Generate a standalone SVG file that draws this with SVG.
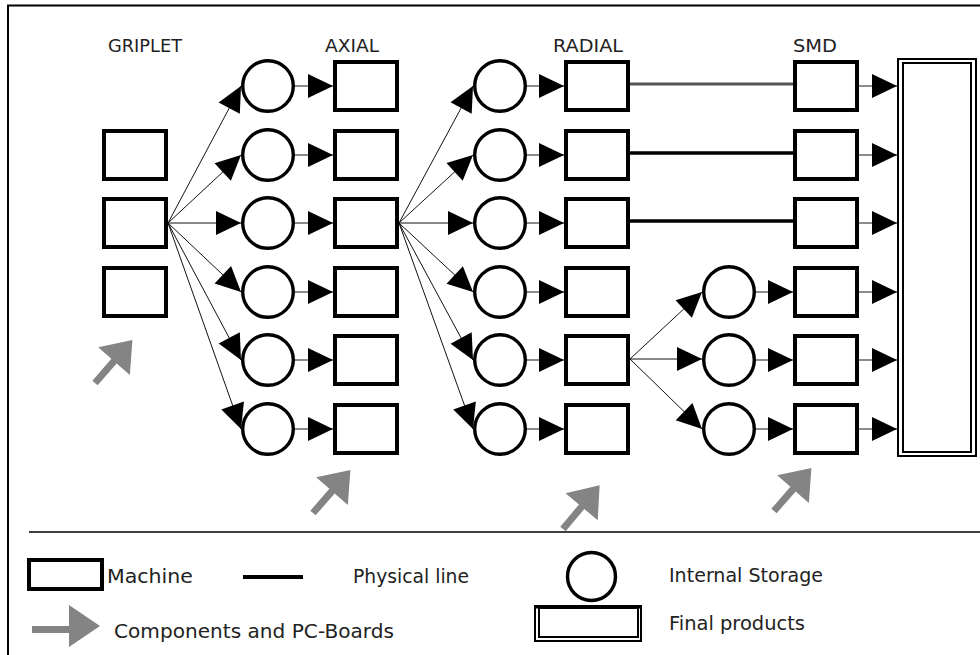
<svg xmlns="http://www.w3.org/2000/svg" width="980" height="655" viewBox="0 0 980 655">
  <style>
    .frame { fill: none; stroke: #000; stroke-width: 2; }
    .machine { fill: #fff; stroke: #000; stroke-width: 4; }
    .store { fill: #fff; stroke: #000; stroke-width: 3.4; }
    .final { fill: none; stroke: #000; stroke-width: 2; }
    .fan { stroke: #111; stroke-width: 1; fill: none; }
    .feed { stroke: #666; stroke-width: 1.6; fill: none; }
    .phys { stroke: #000; stroke-width: 3.5; fill: none; }
    .phys-gray { stroke: #555; stroke-width: 3; fill: none; }
    .supply { fill: #848484; }
    .label { font-family: "DejaVu Sans", "Liberation Sans", sans-serif; fill: #222; }
    .head { font-size: 17.5px; }
    .legend { font-size: 19px; }
  </style>
  <defs>
    <marker id="arrow" markerUnits="userSpaceOnUse" markerWidth="26" markerHeight="24" refX="25" refY="12" orient="auto" overflow="visible">
      <path d="M0,0 L25,12 L0,24 Z" fill="#000"/>
    </marker>
    <!-- grey supply arrow, tail at origin, pointing along +x -->
    <polygon id="supply-arrow" class="supply" points="0,-3.5 29,-3.5 29,-21 57,0 29,21 29,3.5 0,3.5"/>
  </defs>

  <!-- outer frame (right and bottom edges run off the page) -->
  <rect class="frame" x="8" y="5.5" width="1000" height="700"/>

  <!-- column headings -->
  <text class="label head" x="108" y="52" textLength="74" lengthAdjust="spacingAndGlyphs">GRIPLET</text>
  <text class="label head" x="325" y="52" textLength="54" lengthAdjust="spacingAndGlyphs">AXIAL</text>
  <text class="label head" x="553" y="52" textLength="70" lengthAdjust="spacingAndGlyphs">RADIAL</text>
  <text class="label head" x="793" y="52" textLength="44" lengthAdjust="spacingAndGlyphs">SMD</text>

  <!-- connectors -->
  <g id="connectors">
    <!-- griplet fan-out to axial storages -->
    <line class="fan" x1="168" y1="223" x2="241" y2="86" marker-end="url(#arrow)"/>
    <line class="fan" x1="168" y1="223" x2="241" y2="155" marker-end="url(#arrow)"/>
    <line class="fan" x1="168" y1="223" x2="241" y2="223" marker-end="url(#arrow)"/>
    <line class="fan" x1="168" y1="223" x2="241" y2="292" marker-end="url(#arrow)"/>
    <line class="fan" x1="168" y1="223" x2="241" y2="360" marker-end="url(#arrow)"/>
    <line class="fan" x1="168" y1="223" x2="241" y2="429" marker-end="url(#arrow)"/>
    <!-- axial storages to axial machines -->
    <line class="feed" x1="295" y1="86" x2="333" y2="86" marker-end="url(#arrow)"/>
    <line class="feed" x1="295" y1="155" x2="333" y2="155" marker-end="url(#arrow)"/>
    <line class="feed" x1="295" y1="223" x2="333" y2="223" marker-end="url(#arrow)"/>
    <line class="feed" x1="295" y1="292" x2="333" y2="292" marker-end="url(#arrow)"/>
    <line class="feed" x1="295" y1="360" x2="333" y2="360" marker-end="url(#arrow)"/>
    <line class="feed" x1="295" y1="429" x2="333" y2="429" marker-end="url(#arrow)"/>
    <!-- axial fan-out to radial storages -->
    <line class="fan" x1="399" y1="223" x2="473" y2="86" marker-end="url(#arrow)"/>
    <line class="fan" x1="399" y1="223" x2="473" y2="155" marker-end="url(#arrow)"/>
    <line class="fan" x1="399" y1="223" x2="473" y2="223" marker-end="url(#arrow)"/>
    <line class="fan" x1="399" y1="223" x2="473" y2="292" marker-end="url(#arrow)"/>
    <line class="fan" x1="399" y1="223" x2="473" y2="360" marker-end="url(#arrow)"/>
    <line class="fan" x1="399" y1="223" x2="473" y2="429" marker-end="url(#arrow)"/>
    <!-- radial storages to radial machines -->
    <line class="feed" x1="527" y1="86" x2="564" y2="86" marker-end="url(#arrow)"/>
    <line class="feed" x1="527" y1="155" x2="564" y2="155" marker-end="url(#arrow)"/>
    <line class="feed" x1="527" y1="223" x2="564" y2="223" marker-end="url(#arrow)"/>
    <line class="feed" x1="527" y1="292" x2="564" y2="292" marker-end="url(#arrow)"/>
    <line class="feed" x1="527" y1="360" x2="564" y2="360" marker-end="url(#arrow)"/>
    <line class="feed" x1="527" y1="429" x2="564" y2="429" marker-end="url(#arrow)"/>
    <!-- physical lines radial to SMD -->
    <line class="phys-gray" x1="630" y1="84" x2="793" y2="84"/>
    <line class="phys" x1="630" y1="153" x2="793" y2="153"/>
    <line class="phys" x1="630" y1="221" x2="793" y2="221"/>
    <!-- radial fan-out to SMD storages -->
    <line class="fan" x1="630" y1="359" x2="702" y2="292" marker-end="url(#arrow)"/>
    <line class="fan" x1="630" y1="359" x2="702" y2="359" marker-end="url(#arrow)"/>
    <line class="fan" x1="630" y1="359" x2="702" y2="429" marker-end="url(#arrow)"/>
    <!-- SMD storages to SMD machines -->
    <line class="feed" x1="756" y1="292" x2="793" y2="292" marker-end="url(#arrow)"/>
    <line class="feed" x1="756" y1="360" x2="793" y2="360" marker-end="url(#arrow)"/>
    <line class="feed" x1="756" y1="429" x2="793" y2="429" marker-end="url(#arrow)"/>
    <!-- SMD machines to final products -->
    <line class="feed" x1="859" y1="86" x2="897" y2="86" marker-end="url(#arrow)"/>
    <line class="feed" x1="859" y1="155" x2="897" y2="155" marker-end="url(#arrow)"/>
    <line class="feed" x1="859" y1="223" x2="897" y2="223" marker-end="url(#arrow)"/>
    <line class="feed" x1="859" y1="292" x2="897" y2="292" marker-end="url(#arrow)"/>
    <line class="feed" x1="859" y1="360" x2="897" y2="360" marker-end="url(#arrow)"/>
    <line class="feed" x1="859" y1="429" x2="897" y2="429" marker-end="url(#arrow)"/>
  </g>

  <!-- griplet machines -->
  <g id="griplet-1"><rect class="machine" x="104" y="131" width="62" height="48"/></g>
  <g id="griplet-2"><rect class="machine" x="104" y="199" width="62" height="48"/></g>
  <g id="griplet-3"><rect class="machine" x="104" y="268" width="62" height="48"/></g>

  <!-- axial storages -->
  <g id="axial-store-1"><circle class="store" cx="268" cy="86" r="25.3"/></g>
  <g id="axial-store-2"><circle class="store" cx="268" cy="155" r="25.3"/></g>
  <g id="axial-store-3"><circle class="store" cx="268" cy="223" r="25.3"/></g>
  <g id="axial-store-4"><circle class="store" cx="268" cy="292" r="25.3"/></g>
  <g id="axial-store-5"><circle class="store" cx="268" cy="360" r="25.3"/></g>
  <g id="axial-store-6"><circle class="store" cx="268" cy="429" r="25.3"/></g>

  <!-- axial machines -->
  <g id="axial-1"><rect class="machine" x="335" y="62" width="62" height="48"/></g>
  <g id="axial-2"><rect class="machine" x="335" y="131" width="62" height="48"/></g>
  <g id="axial-3"><rect class="machine" x="335" y="199" width="62" height="48"/></g>
  <g id="axial-4"><rect class="machine" x="335" y="268" width="62" height="48"/></g>
  <g id="axial-5"><rect class="machine" x="335" y="336" width="62" height="48"/></g>
  <g id="axial-6"><rect class="machine" x="335" y="405" width="62" height="48"/></g>

  <!-- radial storages -->
  <g id="radial-store-1"><circle class="store" cx="500" cy="86" r="25.3"/></g>
  <g id="radial-store-2"><circle class="store" cx="500" cy="155" r="25.3"/></g>
  <g id="radial-store-3"><circle class="store" cx="500" cy="223" r="25.3"/></g>
  <g id="radial-store-4"><circle class="store" cx="500" cy="292" r="25.3"/></g>
  <g id="radial-store-5"><circle class="store" cx="500" cy="360" r="25.3"/></g>
  <g id="radial-store-6"><circle class="store" cx="500" cy="429" r="25.3"/></g>

  <!-- radial machines -->
  <g id="radial-1"><rect class="machine" x="566" y="62" width="62" height="48"/></g>
  <g id="radial-2"><rect class="machine" x="566" y="131" width="62" height="48"/></g>
  <g id="radial-3"><rect class="machine" x="566" y="199" width="62" height="48"/></g>
  <g id="radial-4"><rect class="machine" x="566" y="268" width="62" height="48"/></g>
  <g id="radial-5"><rect class="machine" x="566" y="336" width="62" height="48"/></g>
  <g id="radial-6"><rect class="machine" x="566" y="405" width="62" height="48"/></g>

  <!-- SMD storages -->
  <g id="smd-store-4"><circle class="store" cx="729" cy="292" r="25.3"/></g>
  <g id="smd-store-5"><circle class="store" cx="729" cy="360" r="25.3"/></g>
  <g id="smd-store-6"><circle class="store" cx="729" cy="429" r="25.3"/></g>

  <!-- SMD machines -->
  <g id="smd-1"><rect class="machine" x="795" y="62" width="62" height="48"/></g>
  <g id="smd-2"><rect class="machine" x="795" y="131" width="62" height="48"/></g>
  <g id="smd-3"><rect class="machine" x="795" y="199" width="62" height="48"/></g>
  <g id="smd-4"><rect class="machine" x="795" y="268" width="62" height="48"/></g>
  <g id="smd-5"><rect class="machine" x="795" y="336" width="62" height="48"/></g>
  <g id="smd-6"><rect class="machine" x="795" y="405" width="62" height="48"/></g>

  <!-- final products store -->
  <g id="final-products">
    <rect class="final" x="898" y="59" width="78" height="397"/>
    <rect class="final" x="903" y="63" width="68" height="389"/>
  </g>

  <!-- component and PC-board supply arrows -->
  <use href="#supply-arrow" transform="translate(95 383) rotate(-49)"/>
  <use href="#supply-arrow" transform="translate(313 513) rotate(-49)"/>
  <use href="#supply-arrow" transform="translate(563 529) rotate(-50)"/>
  <use href="#supply-arrow" transform="translate(774 511) rotate(-49)"/>

  <!-- legend -->
  <line x1="29" y1="532" x2="980" y2="532" stroke="#000" stroke-width="1.5"/>
  <rect class="machine" x="29" y="560" width="73" height="29"/>
  <text class="label legend" x="107" y="583" textLength="86" lengthAdjust="spacingAndGlyphs">Machine</text>
  <line x1="243" y1="577" x2="303" y2="577" stroke="#000" stroke-width="4"/>
  <text class="label legend" x="353" y="583" textLength="116" lengthAdjust="spacingAndGlyphs">Physical line</text>
  <circle class="store" cx="591.5" cy="576.5" r="24"/>
  <text class="label legend" x="669" y="582" textLength="154" lengthAdjust="spacingAndGlyphs">Internal Storage</text>
  <rect class="final" x="535" y="606" width="106" height="35"/>
  <rect class="final" x="539" y="608" width="99" height="29"/>
  <line x1="535" y1="607" x2="641" y2="607" stroke="#000" stroke-width="3"/>
  <text class="label legend" x="669" y="630" textLength="136" lengthAdjust="spacingAndGlyphs">Final products</text>
  <polygon class="supply" points="32,626 69,626 69,605 100,626 69,647 69,633 32,633"/>
  <text class="label legend" x="114" y="638" textLength="280" lengthAdjust="spacingAndGlyphs">Components and PC-Boards</text>
</svg>
